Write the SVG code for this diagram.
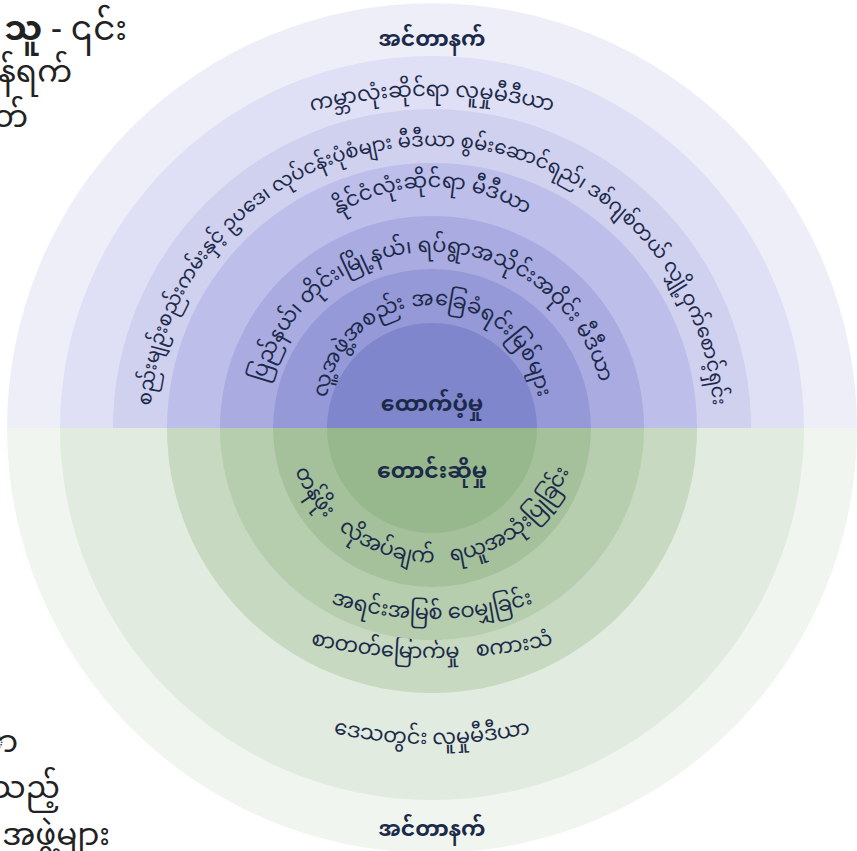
<svg xmlns="http://www.w3.org/2000/svg" width="857" height="851" viewBox="0 0 857 851">
<style>
.lbl{font-family:"Noto Sans Myanmar","Padauk","Myanmar Text","Noto Sans",sans-serif;font-size:21px;fill:#1c2a4a}
.bold{font-weight:700;font-size:22px}
.side{font-family:"Noto Sans Myanmar","Padauk","Myanmar Text","Noto Sans",sans-serif;font-size:31px;fill:#222}
</style>
<defs>
<path id="p7" d="M -49 577 A 481 481 0 0 1 913 577"/>
<path id="p6" d="M 216 609.3 A 282 282 0 1 1 648 609.3"/>
<path id="p5" d="M 258 361 A 174 174 0 0 1 606 361"/>
<path id="p4" d="M 265 470 A 173 173 0 1 1 599 470"/>
<path id="p3" d="M 330 440 A 106 106 0 1 1 534 440"/>
<path id="g3" d="M 328 309 A 148 148 0 1 0 536 309"/>
<path id="g4" d="M 104 291 A 328 328 0 0 0 760 291"/>
<path id="g5" d="M -119 107 A 551 551 0 0 0 983 107"/>
<path id="g6" d="M -21 291 A 453 453 0 0 0 885 291"/>
</defs>
<rect width="857" height="851" fill="#ffffff"/>
<g id="side-text">
<text class="side" x="127" y="40" text-anchor="end" style="font-size:34px"><tspan font-weight="700">သူ</tspan> - ၎င်း</text>
<text class="side" x="72" y="82" text-anchor="end">န်ရက်</text>
<text class="side" x="28" y="127" text-anchor="end">တ်</text>
<text class="side" x="18" y="752" text-anchor="end">ာ</text>
<text class="side" x="60" y="798" text-anchor="end">သည့်</text>
<text class="side" x="110" y="845" text-anchor="end">အဖွဲ့များ</text>
</g>
<g id="supply">
<g id="supply-internet"><path d="M 7 428 A 425 425 0 0 1 857 428 Z" fill="#eeeef9"/><text class="lbl bold" x="432" y="46" text-anchor="middle">အင်တာနက်</text></g>
<g id="supply-global"><path d="M 60 428 A 372 372 0 0 1 804 428 Z" fill="#dfdff5"/><text class="lbl"><textPath href="#p7" startOffset="50%" text-anchor="middle">ကမ္ဘာလုံးဆိုင်ရာ လူမှုမီဒီယာ</textPath></text></g>
<g id="supply-regulation"><path d="M 113 428 A 319 319 0 0 1 751 428 Z" fill="#d0d0ef"/><text class="lbl" style="font-size:19.6px"><textPath href="#p6" startOffset="50%" text-anchor="middle">စည်းမျဉ်းစည်းကမ်းနှင့် ဥပဒေ၊ လုပ်ငန်းပုံစံများ မီဒီယာ စွမ်းဆောင်ရည်၊ ဒစ်ဂျစ်တယ် လျှို့ဝှက်စောင့်ရှင်း</textPath></text></g>
<g id="supply-national"><path d="M 167 428 A 265 265 0 0 1 697 428 Z" fill="#bdbeea"/><text class="lbl"><textPath href="#p5" startOffset="50%" text-anchor="middle">နိုင်ငံလုံးဆိုင်ရာ မီဒီယာ</textPath></text></g>
<g id="supply-local"><path d="M 220 428 A 212 212 0 0 1 644 428 Z" fill="#aaace1"/><text class="lbl"><textPath href="#p4" startOffset="50%" text-anchor="middle">ပြည်နယ်၊ တိုင်း၊မြို့နယ်၊ ရပ်ရွာအသိုင်းအဝိုင်း မီဒီယာ</textPath></text></g>
<g id="supply-community"><path d="M 273 428 A 159 159 0 0 1 591 428 Z" fill="#9599d7"/><text class="lbl"><textPath href="#p3" startOffset="50%" text-anchor="middle">လူ့အဖွဲ့အစည်း အခြေခံရင်းမြစ်များ</textPath></text></g>
<g id="supply-core"><path d="M 327 428 A 105 105 0 0 1 537 428 Z" fill="#7f86cb"/><text class="lbl bold" x="432" y="411" text-anchor="middle">ထောက်ပံ့မှု</text></g>
</g>
<g id="demand">
<g id="demand-internet"><path d="M 7 428 A 425 425 0 0 0 857 428 Z" fill="#f0f5ef"/><text class="lbl bold" x="432" y="836" text-anchor="middle">အင်တာနက်</text></g>
<g id="demand-regional"><path d="M 60 428 A 372 372 0 0 0 804 428 Z" fill="#e1ebdf"/><text class="lbl"><textPath href="#g6" startOffset="50%" text-anchor="middle">ဒေသတွင်း လူမှုမီဒီယာ</textPath></text></g>
<g id="demand-literacy"><path d="M 167 428 A 265 265 0 0 0 697 428 Z" fill="#c7d9c1"/><text class="lbl"><textPath href="#g5" startOffset="50%" text-anchor="middle">စာတတ်မြောက်မှု &#160;&#160;စကားသံ</textPath></text></g>
<g id="demand-sharing"><path d="M 220 428 A 212 212 0 0 0 644 428 Z" fill="#b6ceae"/><text class="lbl"><textPath href="#g4" startOffset="50%" text-anchor="middle">အရင်းအမြစ် ဝေမျှခြင်း</textPath></text></g>
<g id="demand-value"><path d="M 273 428 A 159 159 0 0 0 591 428 Z" fill="#a5c19c"/><text class="lbl"><textPath href="#g3" startOffset="50%" text-anchor="middle">တန်ဖိုး &#160;&#160;လိုအပ်ချက် &#160;&#160;ရယူအသုံးပြုခြင်း</textPath></text></g>
<g id="demand-core"><path d="M 327 428 A 105 105 0 0 0 537 428 Z" fill="#97b78c"/><text class="lbl bold" x="432" y="478" text-anchor="middle">တောင်းဆိုမှု</text></g>
</g>
<g id="connectors"/>
</svg>
